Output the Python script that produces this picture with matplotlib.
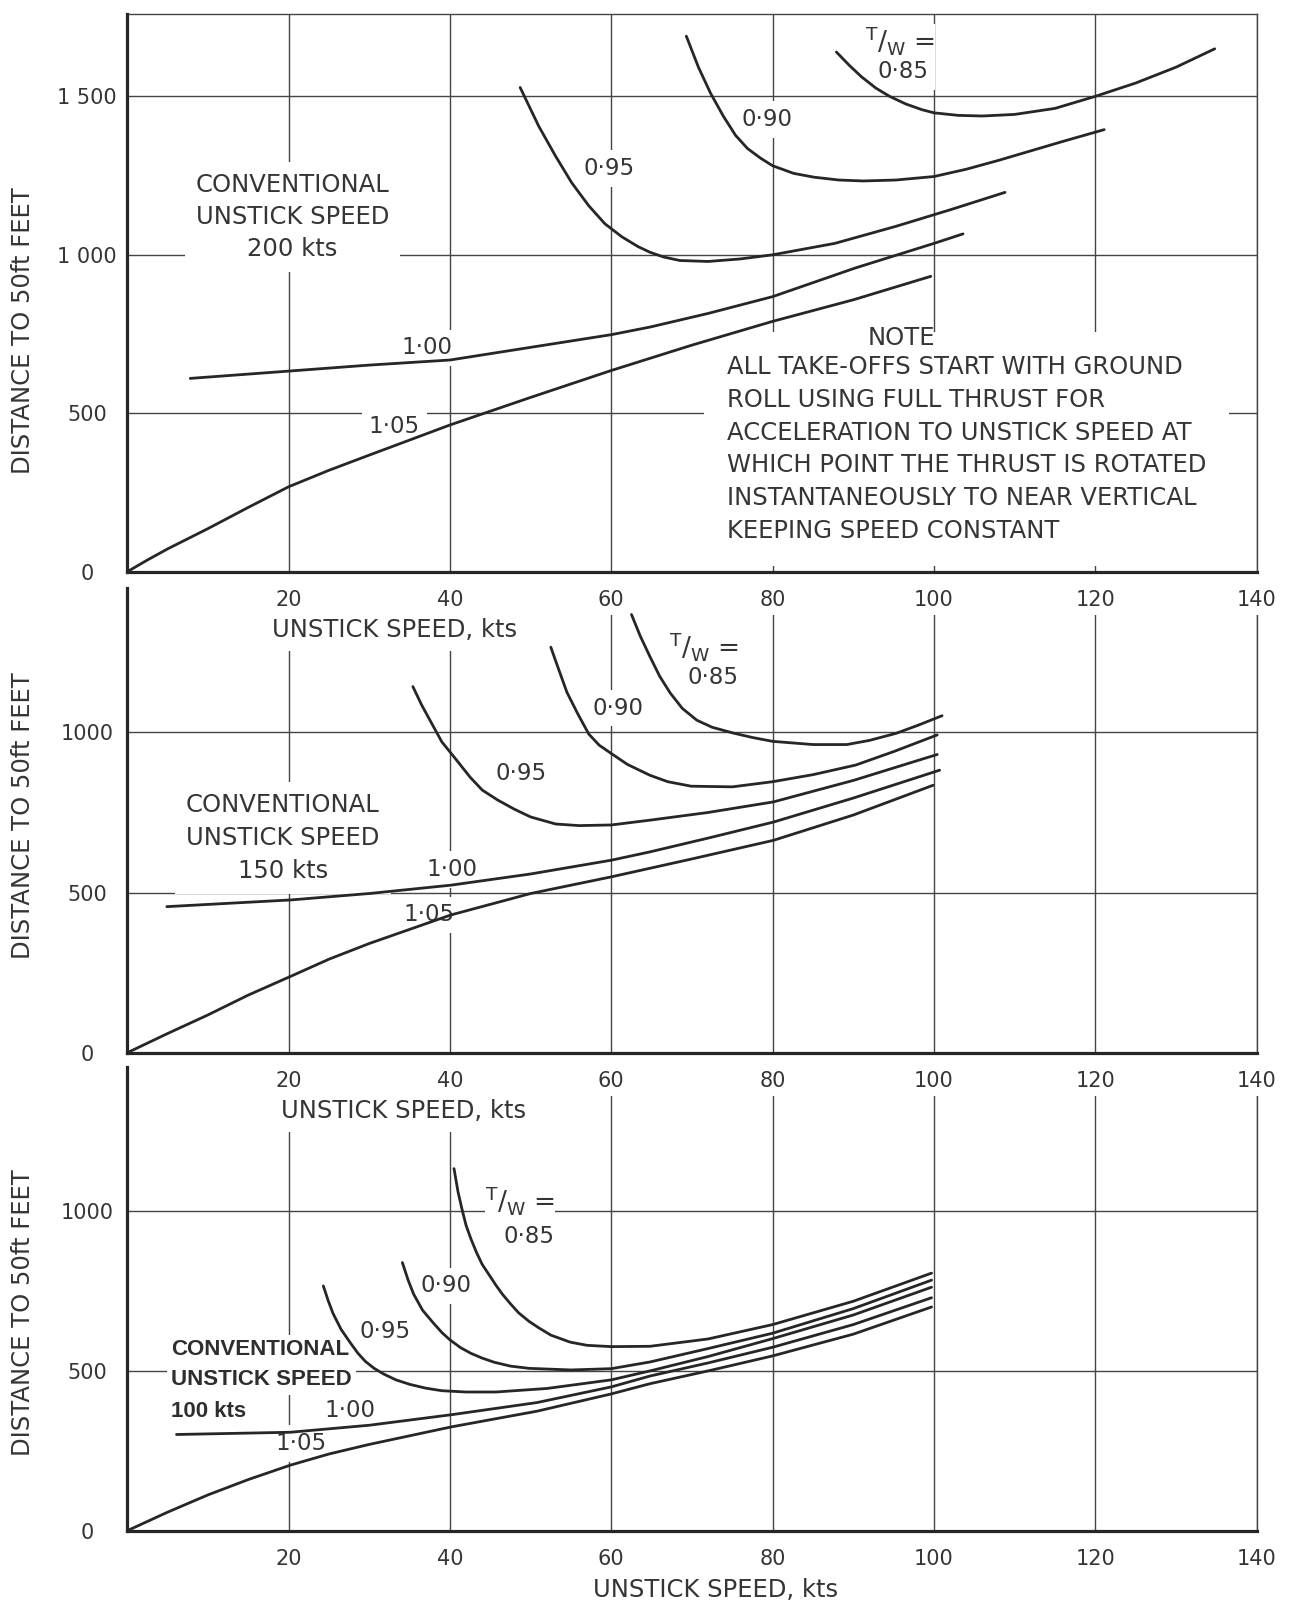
import matplotlib.pyplot as plt

INK = '#262626'
TEXT = '#353535'
GRID = '#444444'

plt.rcParams['font.family'] = ['DejaVu Sans']
plt.rcParams['text.color'] = TEXT
plt.rcParams['axes.labelcolor'] = TEXT
plt.rcParams['xtick.color'] = TEXT
plt.rcParams['ytick.color'] = TEXT

# ось скорости отрыва (общая)
speed_ticks = [0, 20, 40, 60, 80, 100, 120, 140]
speed_labels = ['', '20', '40', '60', '80', '100', '120', '140']

# --- conventional unstick speed 200 kts ---
speed_200_085 = [87.9, 89.5, 91, 92.8, 94.5, 96.5, 98.5, 100, 103, 106, 110, 115, 120, 125, 130, 134.8]
dist_200_085 = [1640, 1598, 1562, 1526, 1500, 1476, 1458, 1448, 1440, 1438, 1443, 1462, 1500, 1542, 1592, 1650]
speed_200_090 = [69.3, 70.8, 72.3, 73.9, 75.4, 76.9, 78.5, 80, 82.6, 85.1, 88.2, 91.2, 95.3,
                 100, 104, 108, 112, 116, 121.1]
dist_200_090 = [1690, 1592, 1510, 1437, 1377, 1335, 1305, 1281, 1257, 1245, 1236, 1233, 1236,
                1247, 1270, 1298, 1328, 1358, 1395]
speed_200_095 = [48.7, 51.0, 53.1, 55.1, 57.2, 59.2, 61.3, 63.3, 64.8, 66.5, 68.5, 72, 76, 80,
                 87.7, 95.3, 102, 108.8]
dist_200_095 = [1528, 1406, 1311, 1227, 1155, 1098, 1057, 1026, 1008, 993, 982, 979, 987, 1000,
                1036, 1090, 1142, 1197]
speed_200_100 = [7.8, 20, 30, 40, 51, 60, 64.8, 72, 80, 90.2, 100, 103.6]
dist_200_100 = [610, 633, 652, 668, 712, 748, 772, 815, 868, 958, 1036, 1066]
speed_200_105 = [0, 2.5, 5, 10, 15, 20, 25, 30, 40, 50, 60, 70, 80, 90, 99.6]
dist_200_105 = [0, 37, 72, 136, 203, 268, 320, 368, 463, 550, 635, 715, 790, 858, 932]

# --- conventional unstick speed 150 kts ---
speed_150_085 = [62.5, 63.6, 64.8, 66, 67.3, 68.8, 70.6, 72.5, 75.1, 77.5, 80, 85, 89.2, 92,
                 95.3, 98, 101]
dist_150_085 = [1368, 1300, 1236, 1175, 1123, 1075, 1038, 1016, 998, 984, 972, 962, 962, 975,
                997, 1022, 1052]
speed_150_090 = [52.5, 53.5, 54.5, 55.8, 57.2, 58.5, 60, 62, 64.8, 67, 69.9, 75, 80, 85, 90.3,
                 95, 100.4]
dist_150_090 = [1266, 1195, 1125, 1060, 995, 960, 934, 900, 866, 846, 832, 830, 846, 868, 898,
                940, 992]
speed_150_095 = [35.4, 36.5, 37.8, 39, 40.8, 42.5, 44, 45.9, 48, 50, 53.1, 56, 60, 64.8, 72,
                 80.1, 90, 100.4]
dist_150_095 = [1143, 1085, 1025, 970, 914, 860, 820, 789, 760, 736, 714, 709, 711, 726, 750,
                783, 850, 931]
speed_150_100 = [4.9, 20.3, 30, 40.1, 50, 60, 64.8, 72, 80.1, 90, 100.7]
dist_150_100 = [456, 477, 497, 523, 558, 601, 627, 670, 720, 795, 882]
speed_150_105 = [0, 5, 10, 15, 20.3, 25, 30, 40.1, 50, 60, 70, 80.1, 90, 99.9]
dist_150_105 = [0, 60, 118, 180, 239, 292, 341, 430, 497, 549, 605, 663, 742, 835]

# --- conventional unstick speed 100 kts ---
speed_100_085 = [40.5, 41, 41.5, 42, 42.6, 43.3, 44, 45, 45.7, 46.5, 47.5, 48.5, 49.8, 51, 52.5,
                 54.9, 57, 60, 64.8, 72, 80, 90, 99.7]
dist_100_085 = [1133, 1060, 1005, 955, 913, 870, 833, 795, 768, 740, 710, 682, 655, 635, 612,
                590, 580, 576, 577, 600, 645, 718, 806]
speed_100_090 = [34.1, 34.8, 35.5, 36.6, 37.9, 39, 40, 41.3, 42.6, 44, 45.5, 47.5, 49.8, 55, 60,
                 64.8, 72, 80, 90, 99.7]
dist_100_090 = [839, 785, 740, 690, 651, 620, 597, 573, 555, 540, 527, 515, 508, 503, 507, 528,
                570, 618, 695, 784]
speed_100_095 = [24.3, 24.9, 25.5, 26.5, 27.7, 28.6, 29.5, 30.6, 31.8, 33.3, 35, 37, 39, 42,
                 45.7, 52, 60, 64.8, 72, 80, 90, 99.7]
dist_100_095 = [766, 720, 680, 630, 586, 555, 530, 508, 490, 472, 458, 446, 438, 434, 434, 445,
                472, 500, 545, 601, 675, 762]
speed_100_100 = [6.1, 20.2, 30, 40.2, 50.8, 60, 64.8, 72, 80, 90, 99.7]
dist_100_100 = [301, 308, 330, 363, 401, 450, 484, 525, 574, 645, 729]
speed_100_105 = [0, 5, 10, 15, 20.2, 25, 30, 40.2, 50.8, 60, 64.8, 72, 80, 90, 99.7]
dist_100_105 = [0, 58, 112, 160, 205, 240, 270, 325, 374, 428, 460, 500, 547, 615, 700]

note_lines = ['ALL TAKE-OFFS START WITH GROUND',
              'ROLL USING FULL THRUST FOR',
              'ACCELERATION TO UNSTICK SPEED AT',
              'WHICH POINT THE THRUST IS ROTATED',
              'INSTANTANEOUSLY TO NEAR VERTICAL',
              'KEEPING SPEED CONSTANT']


def white_box(pad):
    return dict(facecolor='white', edgecolor='none', boxstyle='square,pad=%s' % pad)


TW = r'$\mathregular{^T/_W}$ ='
LBL = dict(fontsize=16.5, ha='center', va='center', bbox=white_box(0.3), zorder=3.5)
TW_LBL = dict(fontsize=19, ha='center', va='center', bbox=white_box(0.0), zorder=3.6)


def setup_axes(ax, ymax, yticks, ylabels, xlab_pos, ylab_y, top_frame):
    """Сетка, оси и подписи одной панели"""
    ax.set_xlim(0, 140)
    ax.set_ylim(0, ymax)
    ax.set_axisbelow(True)
    ax.grid(True, color=GRID, lw=1.0)
    ax.set_xticks(speed_ticks)
    ax.set_xticklabels(speed_labels, fontsize=15,
                       bbox=dict(facecolor='white', edgecolor='none', pad=4))
    ax.set_yticks(yticks)
    ax.set_yticklabels(ylabels, fontsize=15, ha='center')
    ax.tick_params(axis='x', length=0, pad=13)
    ax.tick_params(axis='y', length=0, pad=29)

    ax.set_xlabel('UNSTICK SPEED, kts', fontsize=17.5, bbox=white_box(0.4))
    ax.xaxis.label.set_va('center')
    ax.xaxis.set_label_coords(*xlab_pos)
    ax.set_ylabel('DISTANCE TO 50ft FEET', fontsize=17.5)
    ax.yaxis.label.set_va('center')
    ax.yaxis.set_label_coords(-0.0924, ylab_y)

    for side in ('left', 'bottom'):
        ax.spines[side].set_linewidth(2.3)
        ax.spines[side].set_color(INK)
        ax.spines[side].set_zorder(5)
    for side in ('right', 'top'):
        ax.spines[side].set_linewidth(1.0)
        ax.spines[side].set_color(GRID)
        ax.spines[side].set_zorder(1)
    ax.spines['top'].set_visible(top_frame)


def draw_curves(ax, curves):
    for speed, dist in curves:
        ax.plot(speed, dist, color=INK, lw=2.0, zorder=4,
                solid_capstyle='round', solid_joinstyle='round')


fig = plt.figure(figsize=(12.99, 16.05), dpi=100)
ax_200 = fig.add_axes([0.098, 0.6438, 0.8694, 0.3475])
ax_150 = fig.add_axes([0.098, 0.3441, 0.8694, 0.2894])
ax_100 = fig.add_axes([0.098, 0.0463, 0.8694, 0.2887])
# верхние панели рисуются поверх нижних (подписи оси X закрывают сетку)
ax_200.set_zorder(3)
ax_150.set_zorder(2)
ax_100.set_zorder(1)

setup_axes(ax_200, 1760, [0, 500, 1000, 1500], ['0', '500', '1 000', '1 500'],
           (0.237, -0.104), 0.4316, True)
setup_axes(ax_150, 1450, [0, 500, 1000], ['0', '500', '1000'],
           (0.245, -0.1244), 0.5096, False)
setup_axes(ax_100, 1450, [0, 500, 1000], ['0', '500', '1000'],
           (0.521, -0.128), 0.47, False)

# --- панель 200 kts ---
draw_curves(ax_200, [(speed_200_085, dist_200_085), (speed_200_090, dist_200_090),
                     (speed_200_095, dist_200_095), (speed_200_100, dist_200_100),
                     (speed_200_105, dist_200_105)])
ax_200.text(96.1, 1578, '0·85', **LBL)
ax_200.text(95.8, 1675, TW, **TW_LBL)
ax_200.text(79.3, 1428, '0·90', **LBL)
ax_200.text(59.7, 1273, '0·95', **LBL)
ax_200.text(37.2, 706, '1·00', **LBL)
ax_200.text(33.1, 458, '1·05', **LBL)
ax_200.text(20.5, 1120, 'CONVENTIONAL\nUNSTICK SPEED\n200 kts', fontsize=17.5,
            ha='center', va='center', multialignment='center', linespacing=1.41,
            bbox=white_box(0.45), zorder=3)
# белая подложка примечания закрывает и сетку под словом NOTE
ax_200.text(74.3, 387, '\n'.join(note_lines), fontsize=17.5, ha='left', va='center',
            linespacing=1.46, bbox=white_box(0.95), zorder=3)
ax_200.text(95.9, 737, 'NOTE', fontsize=17.5, ha='center', va='center', zorder=3.2)

# --- панель 150 kts ---
draw_curves(ax_150, [(speed_150_085, dist_150_085), (speed_150_090, dist_150_090),
                     (speed_150_095, dist_150_095), (speed_150_100, dist_150_100),
                     (speed_150_105, dist_150_105)])
ax_150.text(72.6, 1172, '0·85', **LBL)
ax_150.text(71.5, 1268, TW, **TW_LBL)
ax_150.text(60.8, 1076, '0·90', **LBL)
ax_150.text(48.8, 872, '0·95', **LBL)
ax_150.text(40.2, 572, '1·00', **LBL)
ax_150.text(37.4, 430, '1·05', **LBL)
ax_150.text(19.3, 670, 'CONVENTIONAL\nUNSTICK SPEED\n150 kts', fontsize=17.5,
            ha='center', va='center', multialignment='center', linespacing=1.47,
            bbox=white_box(0.45), zorder=3)

# --- панель 100 kts ---
draw_curves(ax_100, [(speed_100_085, dist_100_085), (speed_100_090, dist_100_090),
                     (speed_100_095, dist_100_095), (speed_100_100, dist_100_100),
                     (speed_100_105, dist_100_105)])
ax_100.text(49.8, 922, '0·85', **LBL)
ax_100.text(48.7, 1032, TW, **TW_LBL)
ax_100.text(39.5, 766, '0·90', **LBL)
ax_100.text(32.0, 624, '0·95', **LBL)
ax_100.text(27.6, 377, '1·00', **LBL)
ax_100.text(21.5, 272, '1·05', **LBL)
# в этой панели надпись сделана более жирным и узким шрифтом
for text, dist in [('CONVENTIONAL', 566), ('UNSTICK SPEED', 472), ('100 kts', 374)]:
    ax_100.text(5.45, dist, text, fontsize=16, fontweight='bold', color='#2e2e2e',
                family=['Liberation Sans', 'DejaVu Sans'],
                ha='left', va='center', bbox=white_box(0.2), zorder=3)

fig.savefig('out.png', dpi=100, facecolor='white')
